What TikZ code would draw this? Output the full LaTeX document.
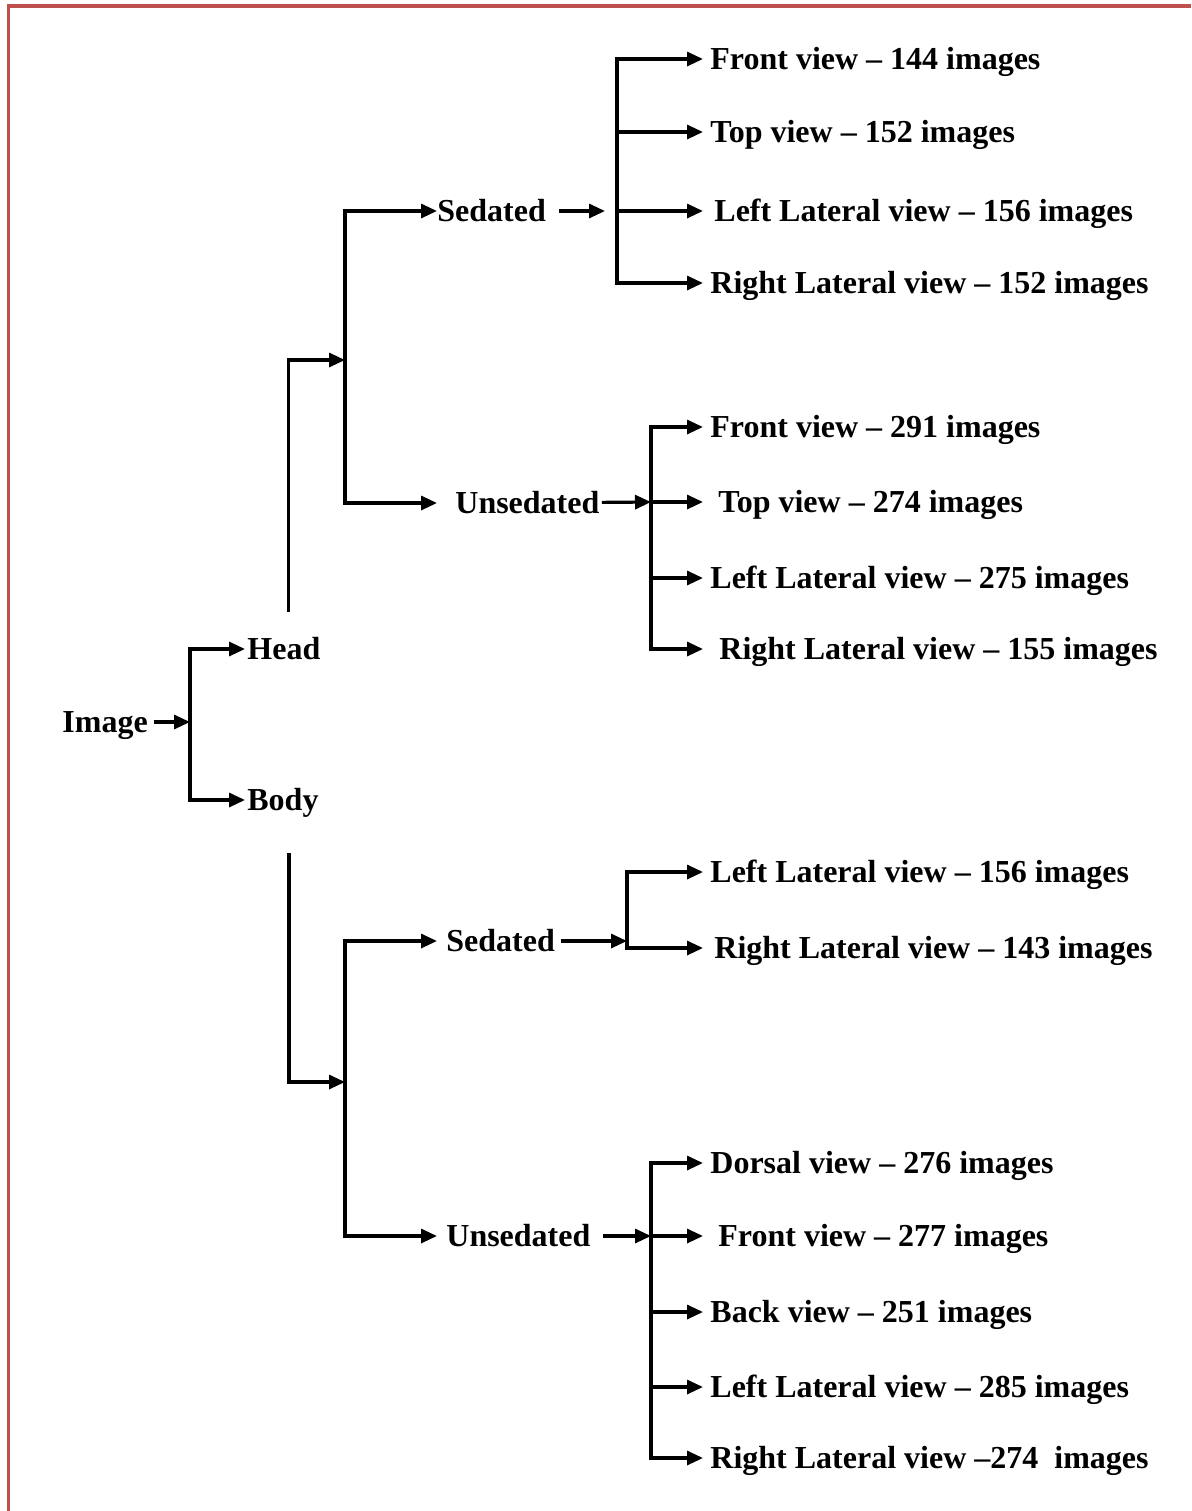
\documentclass[tikz,border=0pt]{standalone}
\usepackage{fontspec}
\setmainfont{Liberation Serif}
\usetikzlibrary{arrows.meta}

\definecolor{framered}{HTML}{C0504D}

\begin{document}
\begin{tikzpicture}[x=0.5pt, y=-0.5pt,
  line/.style={line width=1.6pt, >={Triangle[length=8pt,width=7pt]}},
  lbl/.style={font=\fontsize{16}{19}\selectfont\bfseries, anchor=west,
    inner xsep=1pt, inner ysep=0pt, text height=10.6pt, text depth=0pt},
  leaf/.style={lbl, inner xsep=3.5pt}]
\useasboundingbox (0,0) rectangle (1191,1511);
\draw[framered, line width=1.6pt] (8.5,1511) -- (8.5,6) -- (1191,6);

% first levels
\node[lbl, inner xsep=3pt] (image) at (56,722) {Image};
\coordinate (j0) at (190,722);
\node[lbl] (head) at (245,649) {Head};
\node[lbl] (body) at (245,800) {Body};
\draw[->, line] (image) -- (j0);
\draw[->, line] (j0) |- (head.west);
\draw[->, line] (j0) |- (body.west);

% head
\coordinate (j1) at (345,360);
\node[lbl, inner xsep=0pt] (hsed) at (437,211) {Sedated};
\node[lbl] (huns) at (437,503) {\hspace{8pt}Unsedated};
\draw[->, line] ([shift={(5,-26)}]head.north) |- (j1);
\draw[->, line] (j1) |- (hsed.west);
\draw[->, line] (j1) |- (huns.west);

\coordinate (jhs) at (617,211);
\node[leaf] (hs1) at (703,59) {Front view -- 144 images};
\node[leaf] (hs2) at (703,132) {Top view -- 152 images};
\node[leaf] (hs3) at (703,211) {\hspace{2pt}Left Lateral view -- 156 images};
\node[leaf] (hs4) at (703,283) {Right Lateral view -- 152 images};
\draw[->, line, shorten <=6.5pt, shorten >=6pt] (hsed) -- (jhs);
\draw[->, line] (jhs) |- (hs1.west);
\draw[->, line] (jhs) |- (hs2.west);
\draw[->, line] (jhs) -- (hs3.west);
\draw[->, line] (jhs) |- (hs4.west);

\coordinate (jhu) at (651,502);
\node[leaf] (hu1) at (703,427) {Front view -- 291 images};
\node[leaf] (hu2) at (703,502) {\hspace{4pt}Top view -- 274 images};
\node[leaf] (hu3) at (703,578) {Left Lateral view -- 275 images};
\node[leaf] (hu4) at (703,649) {\hspace{4.5pt}Right Lateral view -- 155 images};
\draw[->, line] (huns) -- (jhu);
\draw[->, line] (jhu) |- (hu1.west);
\draw[->, line] (jhu) -- (hu2.west);
\draw[->, line] (jhu) |- (hu3.west);
\draw[->, line] (jhu) |- (hu4.west);

% body
\coordinate (j2) at (345,1082);
\node[lbl] (bsed) at (437,941) {\hspace{3.5pt}Sedated};
\node[lbl] (buns) at (437,1236) {\hspace{3.5pt}Unsedated};
\draw[->, line] ([shift={(6,42)}]body.south) |- (j2);
\draw[->, line] (j2) |- (bsed.west);
\draw[->, line] (j2) |- (buns.west);

\coordinate (jbs) at (627,941);
\node[leaf] (bs1) at (703,872) {Left Lateral view -- 156 images};
\node[leaf] (bs2) at (703,948) {\hspace{2pt}Right Lateral view -- 143 images};
\draw[->, line, shorten <=2pt] (bsed) -- (jbs);
\draw[->, line] (jbs) |- (bs1.west);
\draw[->, line] (jbs) |- (bs2.west);

\coordinate (jbu) at (651,1236);
\node[leaf] (bu1) at (703,1163) {Dorsal view -- 276 images};
\node[leaf] (bu2) at (703,1236) {\hspace{4pt}Front view -- 277 images};
\node[leaf] (bu3) at (703,1312) {Back view -- 251 images};
\node[leaf] (bu4) at (703,1387) {Left Lateral view -- 285 images};
\node[leaf] (bu5) at (703,1458) {Right Lateral view --274\ \ images};
\draw[->, line, shorten <=5pt] (buns) -- (jbu);
\draw[->, line] (jbu) |- (bu1.west);
\draw[->, line] (jbu) -- (bu2.west);
\draw[->, line] (jbu) |- (bu3.west);
\draw[->, line] (jbu) |- (bu4.west);
\draw[->, line] (jbu) |- (bu5.west);

\end{tikzpicture}
\end{document}
